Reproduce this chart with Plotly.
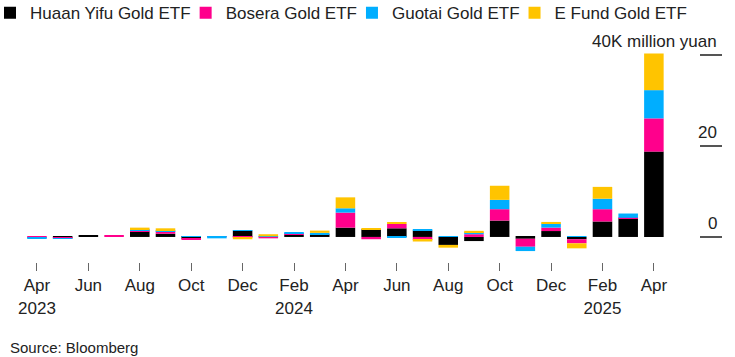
import plotly.graph_objects as go

months = ["Apr 2023", "May 2023", "Jun 2023", "Jul 2023", "Aug 2023", "Sep 2023",
          "Oct 2023", "Nov 2023", "Dec 2023", "Jan 2024", "Feb 2024", "Mar 2024",
          "Apr 2024", "May 2024", "Jun 2024", "Jul 2024", "Aug 2024", "Sep 2024",
          "Oct 2024", "Nov 2024", "Dec 2024", "Jan 2025", "Feb 2025", "Mar 2025",
          "Apr 2025"]

huaan  = [0.0, -0.2, 0.3, 0.0, 1.2, 0.7, -0.4, 0.0, 1.4, 0.0, 0.5, 0.5,
          2.05, 1.7, 1.9, 1.4, -1.75, -0.9, 3.6, -0.4, 1.3, -0.5, 3.4, 4.1, 18.75]
bosera = [-0.15, -0.15, 0.0, 0.25, 0.3, 0.6, -0.1, 0.2, -0.2, -0.3, 0.2, 0.1,
          3.3, -0.5, 0.95, -0.65, 0.0, 0.6, 2.5, -1.75, 0.75, -0.9, 2.7, 0.1, 7.3]
guotai = [-0.1, -0.05, 0.0, 0.0, 0.15, 0.2, 0.15, -0.3, 0.1, 0.15, 0.2, 0.3,
          0.95, 0.0, -0.2, 0.3, 0.1, 0.45, 2.05, -0.95, 0.9, 0.1, 2.3, 0.95, 6.2]
efund  = [0.0, 0.0, 0.0, 0.0, 0.4, 0.4, 0.0, 0.0, -0.3, 0.45, 0.0, 0.5,
          2.4, 0.25, 0.3, -0.35, -0.6, 0.3, 3.1, 0.0, 0.35, -1.1, 2.6, 0.0, 8.05]

series_names = ["Huaan Yifu Gold ETF", "Bosera Gold ETF", "Guotai Gold ETF", "E Fund Gold ETF"]
series_values = [huaan, bosera, guotai, efund]
series_colors = ["#000000", "#ff008c", "#00aeff", "#ffc400"]

tick_months = months[::2]
tick_text = ["Apr<br>2023", "Jun", "Aug", "Oct", "Dec", "Feb<br>2024", "Apr", "Jun",
             "Aug", "Oct", "Dec", "Feb<br>2025", "Apr"]

y_tickvals = [0, 20, 40]
y_ticktext = ["0", "20", "40K million yuan"]

FONT = "Liberation Sans, Arial, sans-serif"
TXT = "#222222"

fig = go.Figure()
for name, vals, col in zip(series_names, series_values, series_colors):
    fig.add_trace(go.Bar(x=months, y=vals, name=name, marker=dict(color=col, line=dict(width=0))))

annotations = [dict(text=t, xref="paper", yref="y", x=1, y=v, xanchor="right", yanchor="bottom",
                    xshift=-3, yshift=2, showarrow=False, font=dict(size=17, color=TXT))
               for v, t in zip(y_tickvals, y_ticktext)]
annotations.append(dict(text="Source: Bloomberg", xref="paper", yref="paper",
                        x=-12/702, y=-85/234, xanchor="left", yanchor="middle",
                        showarrow=False, font=dict(size=15, color=TXT)))

fig.update_layout(
    width=735, height=357,
    barmode="relative", bargap=0.24,
    plot_bgcolor="white", paper_bgcolor="white",
    margin=dict(l=20, r=13, t=28, b=95, autoexpand=False),
    font=dict(family=FONT, size=17, color=TXT),
    showlegend=True,
    legend=dict(orientation="h", x=0, y=1.14, xref="container", yref="paper",
                xanchor="left", yanchor="top", font=dict(size=17, color=TXT),
                traceorder="normal", itemwidth=30, indentation=-10,
                bgcolor="rgba(0,0,0,0)"),
    xaxis=dict(type="category", categoryorder="array", categoryarray=months,
               range=[-0.66, 26.65], tickmode="array", tickvals=tick_months, ticktext=tick_text,
               ticks="outside", ticklen=8, tickcolor="#666666", tickwidth=1,
               showgrid=False, showline=False, zeroline=False,
               tickfont=dict(size=17, color=TXT)),
    yaxis=dict(side="right", range=[-5.5, 45.9], tickmode="array", tickvals=y_tickvals,
               ticks="inside", ticklen=22, tickcolor="#555555", tickwidth=1.5,
               showticklabels=False, showgrid=False, showline=False, zeroline=False),
    annotations=annotations,
)

fig.write_html("out.html", config={"displayModeBar": False},
               post_script="document.body.style.margin='0';document.body.style.padding='0';")
